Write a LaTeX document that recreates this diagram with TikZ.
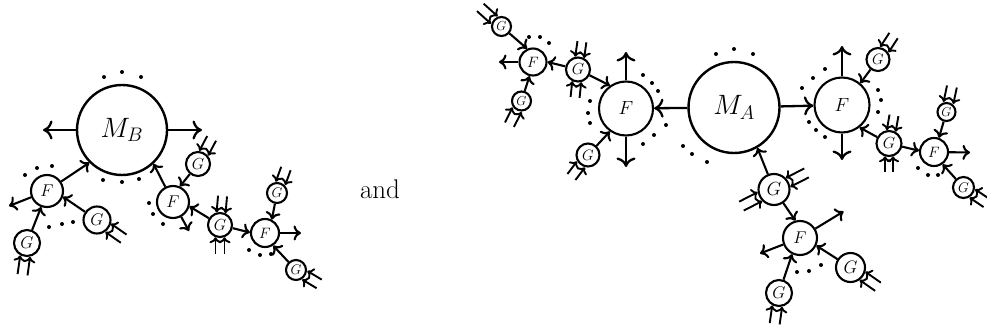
\RequirePackage{fix-cm}
\documentclass[tikz,border=0pt]{standalone}
\usetikzlibrary{arrows.meta,calc}
\newcommand\fsz[1]{\fontsize{#1}{#1}\selectfont}
\tikzset{
 cn/.style={circle,draw,line width=2.1pt,inner sep=0pt,minimum size=#1},
 arr/.style={line width=2.1pt,-{Computer Modern Rightarrow[length=7.5pt,width=15pt]}},
 bigarr/.style={line width=2.3pt,-{Computer Modern Rightarrow[length=9.5pt,width=19pt]}},
 dar/.style={line width=1.9pt,-{Computer Modern Rightarrow[length=6pt,width=12pt]}},
}
\newcommand\dbl[4]{%
 \foreach \s in {-1,1}{%
  \draw[dar] ($(#1.#2)+(#2:#3)+(#2+90:\s*#4)$) -- ($(#1.#2)+(#2+90:\s*#4)+(#2:-0.8)$);}}
\begin{document}
\begin{tikzpicture}[x=1pt,y=1pt]
\useasboundingbox (0,0) rectangle (987,-329);
% ---------- left diagram ----------
\node[cn=90pt,line width=2.4pt,font=\fsz{28}] (MB) at (122,-130) {$M_B$};
\node[cn=32pt,font=\fsz{17}] (F1) at (47,-191) {$F$};
\node[cn=32pt,font=\fsz{17}] (F2) at (173,-202) {$F$};
\node[cn=28pt,font=\fsz{15}] (F3) at (265,-233) {$F$};
\node[cn=26pt,font=\fsz{17}] (G1) at (27,-243) {$G$};
\node[cn=27pt,font=\fsz{17}] (G2) at (97,-220) {$G$};
\node[cn=24pt,font=\fsz{16}] (G3) at (198,-164) {$G$};
\node[cn=24pt,font=\fsz{16}] (G4) at (220,-225) {$G$};
\node[cn=20pt,font=\fsz{14}] (G5) at (277,-193) {$G$};
\node[cn=20pt,font=\fsz{14}] (G6) at (296,-270) {$G$};
\coordinate (mbL) at (43,-130);
\coordinate (mbR) at (202,-130);
\coordinate (f1o) at (9,-206);
\coordinate (f2o) at (189,-231);
\coordinate (f3o) at (301,-233);
\draw[bigarr] (MB) -- (mbL);
\draw[bigarr] (MB) -- (mbR);
\draw[arr] (F1) -- (MB.225);
\draw[arr] (F2) -- (MB.313);
\draw[arr] (G1) -- (F1.250);
\draw[arr] (G2) -- (F1.340);
\draw[arr] (F1) -- (f1o);
\draw[arr] (G3) -- (F2.66);
\draw[arr] (G4) -- (F2.345);
\draw[arr] (F2) -- (f2o);
\draw[arr] (G4) -- (F3.178);
\draw[arr] (F3) -- (f3o);
\draw[arr] (G5) -- (F3.63);
\draw[arr] (G6) -- (F3.303);
\dbl{G1}{262}{18}{5}
\dbl{G2}{325}{18}{5}
\dbl{G3}{62}{16}{5}
\dbl{G4}{85}{16}{4.5}
\dbl{G4}{270}{16}{4.5}
\dbl{G5}{70}{15}{5}
\dbl{G6}{329}{16}{5}
% ---------- middle text ----------
\node[font=\fsz{27}] (and) at (380,-189) {and};
% ---------- right diagram ----------
\node[cn=91pt,line width=2.4pt,font=\fsz{28}] (MA) at (734,-107.5) {$M_A$};
\node[cn=54pt,font=\fsz{19}] (FL) at (626,-108.5) {$F$};
\node[cn=55pt,font=\fsz{19}] (FR) at (842,-105) {$F$};
\node[cn=27pt,font=\fsz{15}] (FLL) at (533,-62) {$F$};
\node[cn=28pt,font=\fsz{15}] (FRR) at (934,-152) {$F$};
\node[cn=34pt,font=\fsz{17}] (FB) at (800,-238) {$F$};
\node[cn=19pt,font=\fsz{13}] (GTL) at (501.5,-26.5) {$G$};
\node[cn=19pt,font=\fsz{13}] (GBL) at (521.5,-101) {$G$};
\node[cn=24pt,font=\fsz{16}] (GL1) at (578,-69.5) {$G$};
\node[cn=23pt,font=\fsz{15}] (GBFL) at (588,-155) {$G$};
\node[cn=23pt,font=\fsz{15}] (GTR) at (878,-59.5) {$G$};
\node[cn=25pt,font=\fsz{16}] (GR1) at (889,-143.5) {$G$};
\node[cn=18pt,font=\fsz{13}] (GAR) at (946.5,-112) {$G$};
\node[cn=21pt,font=\fsz{14}] (GBR) at (963.5,-187.5) {$G$};
\node[cn=31pt,font=\fsz{19}] (GD) at (774,-189.5) {$G$};
\node[cn=26pt,font=\fsz{17}] (GB1) at (779,-293) {$G$};
\node[cn=29pt,font=\fsz{18}] (GB2) at (850.5,-267.5) {$G$};
\coordinate (fllo) at (499,-62);
\coordinate (flu) at (626,-52);
\coordinate (fld) at (626,-167);
\coordinate (fru) at (842,-46);
\coordinate (frd) at (842,-160);
\coordinate (frro) at (970,-152.5);
\coordinate (fbo1) at (843.5,-211.5);
\coordinate (fbo2) at (760,-253.5);
\draw[bigarr] (MA) -- (FL);
\draw[bigarr] (MA) -- (FR);
\draw[bigarr] (FL) -- (flu);
\draw[bigarr] (FL) -- (fld);
\draw[bigarr] (FR) -- (fru);
\draw[bigarr] (FR) -- (frd);
\draw[arr] (GL1) -- (FL.125);
\draw[arr] (GBFL) -- (FL.235);
\draw[arr] (GL1) -- (FLL.0);
\draw[arr] (GTL) -- (FLL.114);
\draw[arr] (GBL) -- (FLL.256);
\draw[arr] (FLL) -- (fllo);
\draw[arr] (GTR) -- (FR.50);
\draw[arr] (GR1) -- (FR.308);
\draw[arr] (GR1) -- (FRR.175);
\draw[arr] (FRR) -- (frro);
\draw[arr] (GAR) -- (FRR.71);
\draw[arr] (GBR) -- (FRR.305);
\draw[arr] (GD) -- (MA.300);
\draw[arr] (GD) -- (FB.105);
\draw[arr] (FB) -- (fbo1);
\draw[arr] (FB) -- (fbo2);
\draw[arr] (GB1) -- (FB.244);
\draw[arr] (GB2) -- (FB.335);
\dbl{GTL}{138}{18}{5}
\dbl{GBL}{243}{16}{5}
\dbl{GL1}{82}{15}{4.5}
\dbl{GL1}{264}{15}{4.5}
\dbl{GBFL}{233}{15}{5}
\dbl{GTR}{57}{16}{5}
\dbl{GR1}{80}{15}{4.5}
\dbl{GR1}{270}{15}{4}
\dbl{GAR}{78}{16}{5}
\dbl{GBR}{326}{16}{5}
\dbl{GD}{27}{20}{5}
\dbl{GD}{207}{20}{5}
\dbl{GB1}{262}{17}{5}
\dbl{GB2}{325}{18}{5}
% ---------- dots ----------
\foreach \x/\y in {104/77,122/72,141/77,103/180,122/182,139/179,25/175,37/168,52/166,49/227,62/224,73/222,149/203,153/214,163/224,249/250,260/255,271/254,
529/37,540/37,549/43,643/75,652/83,658/91,590/101,588/113,590/123,666/125,654/135,643/144,716/54,734/49,753/54,683/146,692/154,707/162,802/88,813/78,825/69,878/90,881/100,878/112,809/122,816/130,825/137,918/168,928/175,938/175,797/272,809/271,821/265}
  \fill (\x,-\y) circle (2);
\end{tikzpicture}
\end{document}
